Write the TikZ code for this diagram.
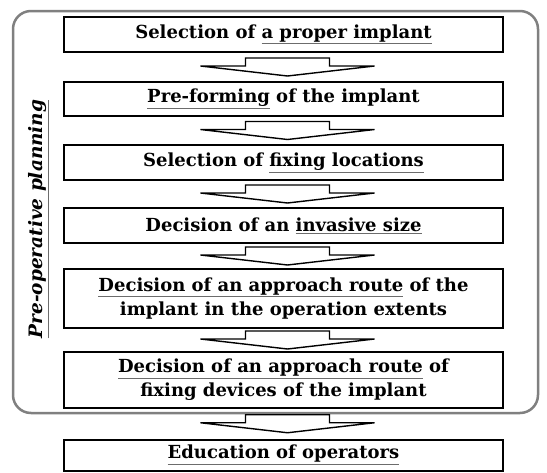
\documentclass[tikz,border=0pt]{standalone}
\usepackage{fontspec}
\setmainfont{DejaVu Serif}
\usetikzlibrary{calc}
\newcommand{\grayul}[1]{\textcolor{gray!85!black}{\underline{\textcolor{black}{#1}}}}

\begin{document}
\begin{tikzpicture}
		[
		x=1pt, y=-1pt,
		every node/.style={font=\fontsize{18}{24}\selectfont\bfseries, text=black},
		stepbox/.style={draw, line width=2pt, minimum width=439pt, align=center, inner sep=0pt},
		flatarrow/.pic={
			\draw[line width=1.4pt, line join=miter, fill=white] (-42,-9) -- (42,-9) -- (42,-1) -- (87,-1) -- (0,9) -- (-87,-1) -- (-42,-1) -- cycle;
		}
		]
		\useasboundingbox (0,0) rectangle (547,472);
		% pre-operative frame
		\draw[gray, line width=2.5pt, rounded corners=18pt] (13,11) rectangle (538,413);
		\node[rotate=90, font=\fontsize{18.5}{22}\selectfont\bfseries\itshape] (plan) at (39,219) {\grayul{Pre-operative planning}};
		% steps
		\node[stepbox, minimum height=35pt] (s1) at (283.5,34.5) {Selection of \grayul{a proper implant}};
		\node[stepbox, minimum height=34pt] (s2) at (283.5,99) {\grayul{Pre-forming} of the implant};
		\node[stepbox, minimum height=35pt] (s3) at (283.5,162.5) {Selection of \grayul{fixing locations}};
		\node[stepbox, minimum height=35pt] (s4) at (283.5,225.5) {Decision of an \grayul{invasive size}};
		\node[stepbox, minimum height=59pt] (s5) at (283.5,298.5) {\grayul{Decision of an approach route} of the\\implant in the operation extents};
		\node[stepbox, minimum height=56pt] (s6) at (283.5,380) {\grayul{Decision of an approach route} of\\fixing devices of the implant};
		\node[stepbox, minimum height=31pt] (s7) at (283.5,455) {\grayul{Education of operators}};
		% arrows between steps
		\foreach \a/\b in {s1/s2,s2/s3,s3/s4,s4/s5,s5/s6,s6/s7}
			\pic at ($(\a.south)!.5!(\b.north)+(4,0)$) {flatarrow};
\end{tikzpicture}
\end{document}
